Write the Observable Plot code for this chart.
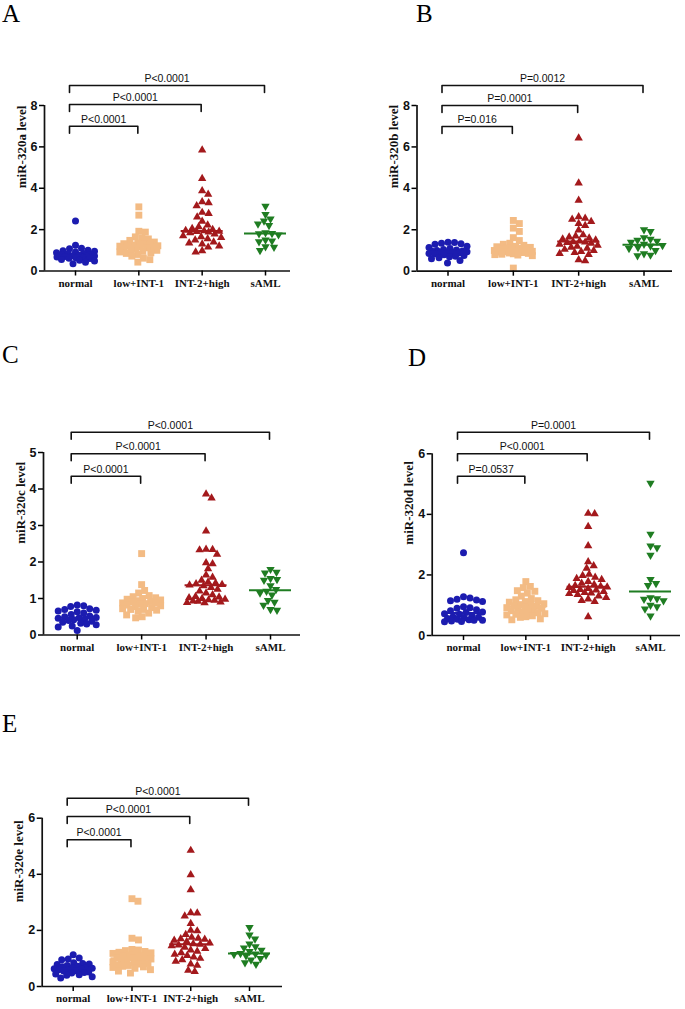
<!DOCTYPE html>
<html><head><meta charset="utf-8">
<script src="https://cdn.jsdelivr.net/npm/d3@7"></script>
<script src="https://cdn.jsdelivr.net/npm/@observablehq/plot@0.6"></script>
<style>
html,body{margin:0;padding:0;background:#fff;}
#root{position:relative;width:685px;height:1009px;overflow:hidden;background:#fff;}
.panel{position:absolute;}
.letter{position:absolute;font-family:"Liberation Serif","Times New Roman",serif;font-size:25px;line-height:normal;color:#000;}
</style></head><body><div id="root"></div>
<script>
// ---------- data ----------
const categories = ["normal", "low+INT-1", "INT-2+high", "sAML"];
const colors = ["#1c1cb0", "#f3bb84", "#a3191c", "#1f7d22"];

const A_normal = [2.42,1.24,1.1,1.08,1.0,0.98,0.95,0.92,0.88,0.85,0.82,0.8,0.78,0.76,0.74,0.72,0.72,0.7,0.68,0.66,0.64,0.62,0.6,0.56,0.52,0.48,0.42,0.35];
const A_low = [3.1,2.7,1.92,1.88,1.65,1.6,1.55,1.48,1.4,1.35,1.32,1.3,1.28,1.25,1.22,1.2,1.2,1.18,1.15,1.12,1.1,1.05,1.02,1.0,0.95,0.92,0.88,0.85,0.8,0.72,0.62,0.55,0.43];
const A_int2 = [5.85,4.47,3.87,3.71,3.34,3.3,3.15,2.83,2.78,2.61,2.4,2.22,2.13,2.05,2.0,1.96,1.94,1.92,1.9,1.88,1.85,1.78,1.7,1.65,1.62,1.55,1.5,1.4,1.35,1.3,1.2,1.15,0.98,0.92];
const A_saml = [3.13,2.73,2.52,2.42,2.28,2.2,1.85,1.82,1.8,1.75,1.5,1.45,1.42,1.18,1.15,1.0];

const B_normal = [1.4,1.38,1.35,1.32,1.3,1.2,1.15,1.1,1.05,1.02,1.0,0.98,0.96,0.94,0.92,0.9,0.9,0.88,0.86,0.84,0.8,0.76,0.72,0.7,0.65,0.6,0.52,0.4];
const B_low = [2.45,2.3,2.08,1.92,1.62,1.48,1.35,1.3,1.25,1.2,1.18,1.15,1.12,1.1,1.08,1.05,1.02,1.0,0.98,0.96,0.94,0.92,0.9,0.88,0.86,0.84,0.82,0.8,0.78,0.75,0.15];
const B_int2 = [6.43,4.25,3.42,2.62,2.55,2.5,2.4,2.3,2.2,1.98,1.75,1.7,1.65,1.6,1.55,1.5,1.45,1.42,1.4,1.38,1.35,1.3,1.25,1.2,1.15,1.1,1.05,1.0,0.95,0.9,0.85,0.8,0.55,0.5];
const B_saml = [2.0,1.92,1.62,1.55,1.5,1.45,1.4,1.3,1.25,1.22,1.15,1.1,1.0,0.85,0.78,0.75];

const C_normal = [0.82,0.8,0.78,0.72,0.7,0.68,0.66,0.64,0.6,0.56,0.52,0.5,0.48,0.47,0.46,0.44,0.42,0.4,0.38,0.35,0.32,0.3,0.28,0.25,0.22,0.12];
const C_low = [2.23,1.38,1.22,1.15,1.08,1.05,1.02,1.0,0.98,0.96,0.94,0.92,0.9,0.88,0.87,0.86,0.84,0.82,0.8,0.78,0.75,0.72,0.7,0.7,0.68,0.65,0.6,0.55,0.5,0.47];
const C_int2 = [3.86,3.75,2.85,2.35,2.34,2.33,2.21,1.98,1.95,1.81,1.64,1.58,1.5,1.45,1.42,1.4,1.38,1.37,1.35,1.3,1.25,1.2,1.15,1.1,1.05,1.04,1.02,1.0,0.98,0.96,0.95,0.93,0.92,0.9,0.89,0.88];
const C_saml = [1.8,1.72,1.7,1.55,1.52,1.5,1.35,1.25,1.2,1.15,1.1,0.95,0.9,0.82,0.7,0.68];

const D_normal = [2.73,1.28,1.24,1.2,1.17,1.15,1.12,0.95,0.92,0.9,0.85,0.82,0.78,0.76,0.72,0.7,0.66,0.62,0.6,0.58,0.56,0.54,0.52,0.5,0.5,0.48,0.46,0.45];
const D_low = [1.78,1.62,1.58,1.48,1.46,1.4,1.3,1.22,1.18,1.15,1.12,1.1,1.05,1.02,1.0,0.98,0.96,0.94,0.92,0.9,0.88,0.85,0.82,0.8,0.78,0.75,0.72,0.7,0.68,0.65,0.62,0.6,0.55,0.52];
const D_int2 = [4.03,4.02,3.6,2.96,2.43,2.3,2.22,2.02,1.98,1.92,1.88,1.85,1.78,1.72,1.68,1.65,1.62,1.6,1.58,1.55,1.52,1.5,1.48,1.45,1.42,1.4,1.38,1.35,1.3,1.25,1.2,1.15,1.12,0.62];
const D_saml = [5.03,3.35,2.96,2.9,2.65,1.85,1.72,1.65,1.25,1.22,1.2,1.15,1.0,0.95,0.88,0.65];

const E_normal = [1.13,1.02,0.98,0.95,0.85,0.82,0.8,0.78,0.75,0.72,0.7,0.68,0.66,0.65,0.63,0.62,0.6,0.58,0.56,0.55,0.52,0.5,0.48,0.45,0.42,0.4,0.35,0.3];
const E_low = [3.13,3.04,1.72,1.66,1.32,1.3,1.28,1.25,1.22,1.2,1.18,1.15,1.12,1.1,1.08,1.05,1.03,1.02,1.0,0.98,0.95,0.92,0.9,0.88,0.85,0.82,0.8,0.78,0.75,0.72,0.7,0.68,0.65,0.6,0.55,0.48];
const E_int2 = [4.85,3.98,3.45,2.63,2.62,2.51,2.24,2.0,1.98,1.85,1.75,1.72,1.7,1.68,1.65,1.6,1.55,1.52,1.5,1.48,1.45,1.4,1.35,1.3,1.25,1.2,1.15,1.1,1.05,1.0,0.95,0.9,0.8,0.75,0.58,0.53];
const E_saml = [2.11,1.84,1.7,1.52,1.42,1.38,1.3,1.25,1.18,1.16,1.14,1.12,1.1,1.0,0.95,0.85,0.8];

const A_ticks = [0,2,4,6,8], B_ticks = [0,2,4,6,8], C_ticks = [0,1,2,3,4,5], D_ticks = [0,2,4,6], E_ticks = [0,2,4,6];
const A_p = ["P<0.0001","P<0.0001","P<0.0001"];
const B_p = ["P=0.016","P=0.0001","P=0.0012"];
const C_p = ["P<0.0001","P<0.0001","P<0.0001"];
const D_p = ["P=0.0537","P<0.0001","P=0.0001"];
const E_p = ["P<0.0001","P<0.0001","P<0.0001"];
const titles = ["miR-320a level","miR-320b level","miR-320c level","miR-320d level","miR-320e level"];
const letters = ["A","B","C","D","E"];

// ---------- layout (page pixels) ----------
const layouts = [
 {left:0,   top:0,   width:340, height:300, axisX:44,    cat0:75,    cat3:265,   xEnd:290, yZero:270.5, yTop:105,   bracketY:[125.7,104,85],       letterX:2,   letterY:0},
 {left:340, top:0,   width:345, height:300, axisX:416.5, cat0:447.5, cat3:643.5, xEnd:672, yZero:270.7, yTop:105,   bracketY:[126,105,85],         letterX:416, letterY:0},
 {left:0,   top:330, width:340, height:330, axisX:43,    cat0:76.7,  cat3:270,   xEnd:300, yZero:634.5, yTop:452,   bracketY:[475.7,453.3,431.7],  letterX:2,   letterY:341},
 {left:340, top:330, width:345, height:330, axisX:431.7, cat0:463,   cat3:650,   xEnd:680, yZero:635,   yTop:453.3, bracketY:[475.7,453.3,431.7],  letterX:408, letterY:344},
 {left:0,   top:680, width:340, height:329, axisX:41.7,  cat0:72.7,  cat3:249,   xEnd:282, yZero:986,   yTop:817.7, bracketY:[839.3,816,797.7],    letterX:2,   letterY:710}
];
const panelData = [
 [A_normal,A_low,A_int2,A_saml],
 [B_normal,B_low,B_int2,B_saml],
 [C_normal,C_low,C_int2,C_saml],
 [D_normal,D_low,D_int2,D_saml],
 [E_normal,E_low,E_int2,E_saml]
];
const panelTicks = [A_ticks,B_ticks,C_ticks,D_ticks,E_ticks];
const panelP = [A_p,B_p,C_p,D_p,E_p];

// inverted triangle symbol
const triangleDown = {
  draw(context, size) {
    const s3 = Math.sqrt(3);
    const y = -Math.sqrt(size / (s3 * 3));
    context.moveTo(0, -y * 2);
    context.lineTo(-s3 * y, y);
    context.lineTo(s3 * y, y);
    context.closePath();
  }
};
const symbols = ["circle", "square", "triangle", triangleDown];
const radii = [3.5, 3.9, 3.1, 3.1];

const root = document.getElementById("root");
const sans = "'Liberation Sans', Arial, sans-serif";
const serif = "'Liberation Serif', 'Times New Roman', serif";

panelData.forEach((groups, pi) => {
  const L = layouts[pi];
  const ticks = panelTicks[pi];
  const yMax = ticks[ticks.length - 1];
  const step = (L.cat3 - L.cat0) / 3;
  const a = (L.cat0 - L.axisX) / step;
  const b = (L.xEnd - L.cat3) / step;
  const pxPerUnit = (L.yZero - L.yTop) / yMax;
  const ypx = v => L.yZero - v * pxPerUnit;

  // scatter-column layout: spread points sideways within a limited width
  function swarm(values, dia, maxW) {
    const order = values.map((v, i) => i).sort((p, q) => values[q] - values[p]);
    const placed = [];
    const offs = new Array(values.length).fill(0);
    const cands = [0];
    for (let k = 1; k <= maxW * 2; k++) { cands.push(k * 0.5, -k * 0.5); }
    for (const i of order) {
      const y = ypx(values[i]);
      let chosen = null, best = -1, bestO = 0;
      for (const o of cands) {
        let md = Infinity;
        for (const p of placed) { const d = Math.hypot(p.x - o, p.y - y); if (d < md) md = d; }
        if (md >= dia) { chosen = o; break; }
        if (md > best + 0.01) { best = md; bestO = o; }
      }
      if (chosen === null) chosen = bestO;
      placed.push({x: chosen, y});
      offs[i] = chosen;
    }
    return offs;
  }

  const marks = [];
  const medians = [];
  groups.forEach((vals, gi) => {
    const offs = swarm(vals, 6.5, 19);
    const rows = vals.map((v, i) => ({x: gi + offs[i] / step, y: v}));
    marks.push(Plot.dot(rows, {x: "x", y: "y", symbol: symbols[gi], r: radii[gi], fill: colors[gi], stroke: "none"}));
    medians.push({m: d3.median(vals), x1: gi - 21 / step, x2: gi + 21 / step, c: colors[gi]});
  });
  marks.push(Plot.ruleY(medians, {y: "m", x1: "x1", x2: "x2", stroke: "c", strokeWidth: 2}));

  // significance brackets
  const leg = 7 / pxPerUnit;
  const bl = [];
  const bt = [];
  L.bracketY.forEach((py, j) => {
    const yb = (L.yZero - py) / pxPerUnit;
    const x1 = -6 / step, x2 = j + 1 - 1 / step;
    bl.push({k: j, x: x1, y: yb - leg}, {k: j, x: x1, y: yb}, {k: j, x: x2, y: yb}, {k: j, x: x2, y: yb - leg});
    bt.push({x: (x1 + x2) / 2, y: yb, t: panelP[pi][j]});
  });
  marks.push(Plot.line(bl, {x: "x", y: "y", z: "k", stroke: "#111", strokeWidth: 1.6}));
  marks.push(Plot.text(bt, {x: "x", y: "y", text: "t", dy: -7, fontSize: 10.5, fontFamily: sans, fill: "#111"}));

  // axes
  marks.push(Plot.ruleX([-a], {stroke: "#111", strokeWidth: 1.7}));
  marks.push(Plot.ruleY([0], {stroke: "#111", strokeWidth: 1.7}));
  marks.push(Plot.axisY({ticks: ticks, tickFormat: d => String(d), anchor: "left", tickSize: 5, tickPadding: 2, label: null, strokeWidth: 1.5,
    fontSize: 12.5, fontWeight: "bold", fontFamily: sans, fill: "#111"}));
  marks.push(Plot.axisX({ticks: [0, 1, 2, 3], tickFormat: i => categories[i], anchor: "bottom", tickSize: 5, tickPadding: 3, label: null,
    strokeWidth: 1.5, fontSize: 11, fontWeight: "bold", fontFamily: serif, fill: "#111"}));
  marks.push(Plot.text([titles[pi]], {frameAnchor: "left", rotate: -90, dx: -23, fontSize: 13, fontWeight: "bold", fontFamily: serif, fill: "#111"}));

  const svg = Plot.plot({
    width: L.width, height: L.height,
    marginLeft: L.axisX - L.left, marginRight: L.left + L.width - L.xEnd,
    marginTop: L.yTop - L.top, marginBottom: L.top + L.height - L.yZero,
    x: {type: "linear", domain: [-a, 3 + b]},
    y: {type: "linear", domain: [0, yMax]},
    style: {background: "transparent", overflow: "visible", fontFamily: sans},
    marks
  });
  svg.classList.add("panel");
  svg.style.left = L.left + "px";
  svg.style.top = L.top + "px";
  root.appendChild(svg);

  const lt = document.createElement("div");
  lt.className = "letter";
  lt.textContent = letters[pi];
  lt.style.left = L.letterX + "px";
  lt.style.top = L.letterY + "px";
  root.appendChild(lt);
});
</script></body></html>
